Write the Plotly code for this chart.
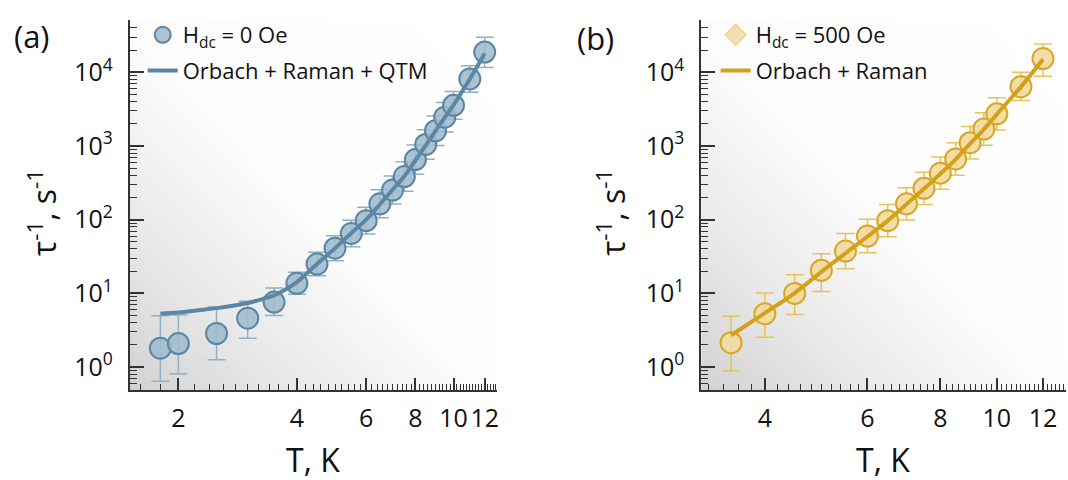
import base64
import plotly.graph_objects as go

# ---------------- data ----------------
T_a = [1.8, 2.0, 2.5, 3.0, 3.5, 4.0, 4.5, 5.0, 5.5, 6.0, 6.5, 7.0, 7.5, 8.0, 8.5, 9.0, 9.5, 10.0, 11.0, 12.0]
rate_a = [1.8, 2.08, 2.85, 4.6, 7.6, 13.7, 25, 41, 65, 97, 164, 252, 385, 653, 1050, 1610, 2460, 3560, 8140, 18800]
rate_a_hi = [4.95, 5.1, 6.5, 7.8, 11.8, 19.4, 36, 60.6, 98, 147, 254, 390, 610, 1035, 1660, 2550, 3900, 5510, 12300, 29800]
rate_a_lo = [0.64, 0.81, 1.25, 2.45, 5.0, 9.7, 17.3, 27.7, 43, 64, 106, 163, 243, 412, 662, 1016, 1550, 2300, 5370, 11600]

fitT_a = [1.8, 2.0, 2.25, 2.5, 2.75, 3.0, 3.25, 3.5, 3.75, 4.0, 4.5, 5.0, 5.5, 6.0, 6.5, 7.0, 7.5, 8.0, 8.5, 9.0, 9.5, 10.0, 11.0, 12.0]
fit_a = [5.3, 5.5, 5.9, 6.3, 6.8, 7.4, 8.3, 9.4, 11.4, 14.2, 25, 41, 66, 100, 162, 255, 390, 640, 1020, 1600, 2450, 3600, 8100, 18000]

T_b = [3.5, 4.0, 4.5, 5.0, 5.5, 6.0, 6.5, 7.0, 7.5, 8.0, 8.5, 9.0, 9.5, 10.0, 11.0, 12.0]
rate_b = [2.14, 5.28, 9.97, 20.5, 37.5, 60, 97, 164, 266, 428, 667, 1108, 1700, 2730, 6370, 15360]
rate_b_hi = [4.9, 10.1, 17.9, 34.4, 65, 101, 161, 272, 441, 710, 1106, 1838, 2820, 4530, 10000, 24200]
rate_b_lo = [0.89, 2.54, 5.15, 10.6, 21.6, 35.6, 58.5, 99, 160, 258, 402, 668, 1025, 1646, 4140, 8830]

fitT_b = [3.5, 4.0, 4.5, 5.0, 5.5, 6.0, 6.5, 7.0, 7.5, 8.0, 8.5, 9.0, 9.5, 10.0, 11.0, 12.0]
fit_b = [2.7, 5.4, 10.1, 19.6, 35, 59, 97, 162, 262, 420, 660, 1080, 1680, 2700, 6350, 15000]

x_ticks_a = [2, 4, 6, 8, 10, 12]
x_ticks_b = [4, 6, 8, 10, 12]
y_ticks = [1, 10, 100, 1000, 10000]
y_ticktext = ["10<sup>0</sup>", "10<sup>1</sup>", "10<sup>2</sup>", "10<sup>3</sup>", "10<sup>4</sup>"]

# ---------------- styling ----------------
FONT = "Open Sans"
AX = "#333333"
BLUE_FILL = "rgba(160,187,205,0.88)"
BLUE_EDGE = "#5b86a3"
BLUE_ERR = "#8fb0c6"
BLUE_LINE = "#5c87a4"
GOLD_FILL = "rgba(241,218,160,0.9)"
GOLD_EDGE = "#d9a626"
GOLD_ERR = "#e6c25c"
GOLD_LINE = "#d4a01a"

W, H = 1068, 480
xa_dom = [130 / W, 498 / W]
xb_dom = [702.6 / W, 1.0]
y_dom = [1 - 390 / H, 1 - 20 / H]
y_range = [-0.312, 4.71]


def minor_x(lo, hi):
    vals = []
    v = 1.6
    while v < 14:
        r = round(v, 2)
        if lo <= r <= hi and abs(r / 2 - round(r / 2)) > 1e-6:
            vals.append(r)
        v += 0.2
    return vals


minor_y = [m * 10 ** d for d in range(-1, 5) for m in range(2, 10)]

fig = go.Figure()


def errs(y, hi, lo):
    return [h - v for h, v in zip(hi, y)], [v - l for v, l in zip(y, lo)]


ea_p, ea_m = errs(rate_a, rate_a_hi, rate_a_lo)
eb_p, eb_m = errs(rate_b, rate_b_hi, rate_b_lo)

fig.add_trace(go.Scatter(
    x=T_a, y=rate_a, mode="markers", name="H<sub>dc</sub> = 0 Oe",
    xaxis="x", yaxis="y", legend="legend", legendgroup="a1",
    marker=dict(symbol="circle", size=21, color=BLUE_FILL, line=dict(color=BLUE_EDGE, width=2)),
    error_y=dict(type="data", symmetric=False, array=ea_p, arrayminus=ea_m,
                 color=BLUE_ERR, thickness=1.5, width=9),
))
fig.add_trace(go.Scatter(
    x=fitT_a, y=fit_a, mode="lines", name="Orbach + Raman + QTM",
    xaxis="x", yaxis="y", legend="legend", legendgroup="a2",
    line=dict(color=BLUE_LINE, width=4, shape="spline"),
))

fig.add_trace(go.Scatter(
    x=T_b, y=rate_b, mode="markers", name="H<sub>dc</sub> = 500 Oe", showlegend=False,
    xaxis="x2", yaxis="y2",
    marker=dict(symbol="circle", size=21, color=GOLD_FILL, line=dict(color=GOLD_EDGE, width=2)),
    error_y=dict(type="data", symmetric=False, array=eb_p, arrayminus=eb_m,
                 color=GOLD_ERR, thickness=1.5, width=9),
))
# legend entry for panel (b) uses a diamond symbol, as in the reference
fig.add_trace(go.Scatter(
    x=[None], y=[None], mode="markers", name="H<sub>dc</sub> = 500 Oe",
    xaxis="x2", yaxis="y2", legend="legend2", legendgroup="b1",
    marker=dict(symbol="diamond", size=23, color="#f3e0b2", line=dict(color="#f0d38e", width=1.5)),
))
fig.add_trace(go.Scatter(
    x=fitT_b, y=fit_b, mode="lines", name="Orbach + Raman",
    xaxis="x2", yaxis="y2", legend="legend2", legendgroup="b2",
    line=dict(color=GOLD_LINE, width=4, shape="spline"),
))

common_x = dict(
    type="log", showline=True, linecolor=AX, linewidth=2, ticks="inside", ticklen=12,
    tickwidth=1.6, tickcolor=AX, showgrid=False, zeroline=False, tickangle=0,
    tickfont=dict(family=FONT, size=25, color="#111111"), ticklabelstandoff=5,
    mirror=False,
)
common_y = dict(
    type="log", showline=True, linecolor=AX, linewidth=2, ticks="inside", ticklen=14,
    tickwidth=1.6, tickcolor=AX, showgrid=False, zeroline=False, range=y_range,
    tickmode="array", tickvals=y_ticks, ticktext=y_ticktext,
    tickfont=dict(family=FONT, size=25, color="#111111"), ticklabelstandoff=10,
    minor=dict(ticks="inside", ticklen=7, tickwidth=1.4, tickcolor=AX, tickmode="array",
               tickvals=minor_y, showgrid=False),
    domain=y_dom, mirror=False,
)

leg_common = dict(xanchor="left", yanchor="top", bgcolor="rgba(0,0,0,0)",
                  font=dict(family=FONT, size=22, color="#111111"), tracegroupgap=4,
                  itemwidth=30, groupclick="toggleitem")

fig.update_layout(
    width=W, height=H, margin=dict(l=0, r=0, t=0, b=0),
    paper_bgcolor="white", plot_bgcolor="rgba(0,0,0,0)",
    font=dict(family=FONT, color="#111111"),
    xaxis=dict(common_x, domain=xa_dom, anchor="y", range=[0.1775, 1.1106],
               tickmode="array", tickvals=x_ticks_a, ticktext=[str(v) for v in x_ticks_a],
               minor=dict(ticks="inside", ticklen=6, tickwidth=1.4, tickcolor=AX, tickmode="array",
                          tickvals=minor_x(1.5, 13), showgrid=False)),
    yaxis=dict(common_y, anchor="x"),
    xaxis2=dict(common_x, domain=xb_dom, anchor="y2", range=[0.493, 1.1187],
                tickmode="array", tickvals=x_ticks_b, ticktext=[str(v) for v in x_ticks_b],
                minor=dict(ticks="inside", ticklen=6, tickwidth=1.4, tickcolor=AX, tickmode="array",
                           tickvals=minor_x(3.0, 13.5), showgrid=False)),
    yaxis2=dict(common_y, anchor="x2"),
    legend=dict(leg_common, x=143 / W, y=1 - 14 / H),
    legend2=dict(leg_common, x=717 / W, y=1 - 14 / H),
    showlegend=True,
)

# gradient background behind each plotting area
svg = ("<svg xmlns='http://www.w3.org/2000/svg' width='100' height='100' viewBox='0 0 100 100' "
       "preserveAspectRatio='none'><defs><linearGradient id='g' x1='0' y1='1' x2='1' y2='0'>"
       "<stop offset='0' stop-color='#d2d2d2'/><stop offset='0.22' stop-color='#e8e8e8'/>"
       "<stop offset='0.48' stop-color='#fcfcfc'/><stop offset='1' stop-color='#ffffff'/>"
       "</linearGradient></defs><rect width='100' height='100' fill='url(#g)'/></svg>")
src = "data:image/svg+xml;base64," + base64.b64encode(svg.encode()).decode()
for dom in (xa_dom, xb_dom):
    fig.add_layout_image(dict(source=src, xref="paper", yref="paper", x=dom[0], y=y_dom[1],
                              sizex=dom[1] - dom[0], sizey=y_dom[1] - y_dom[0],
                              xanchor="left", yanchor="top", sizing="stretch", layer="below"))

ann_font = dict(family=FONT, size=32, color="#111111")
for txt, x, y in [("(a)", 32, 36), ("(b)", 597, 38)]:
    fig.add_annotation(text=txt, x=x / W, y=1 - y / H, xref="paper", yref="paper",
                       xanchor="center", yanchor="middle",
                       showarrow=False, font=dict(family=FONT, size=31, color="#111111"))
for x in (314, 885):
    fig.add_annotation(text="T, K", x=x / W, y=1 - 459 / H, xref="paper", yref="paper",
                       xanchor="center", yanchor="middle", showarrow=False, font=ann_font)
for x in (42, 612):
    fig.add_annotation(text="τ<sup>-1</sup>, s<sup>-1</sup>", x=x / W, y=1 - 212 / H,
                       xref="paper", yref="paper", xanchor="center", yanchor="middle",
                       showarrow=False, textangle=-90, font=ann_font)

fig.write_html("out.html")
